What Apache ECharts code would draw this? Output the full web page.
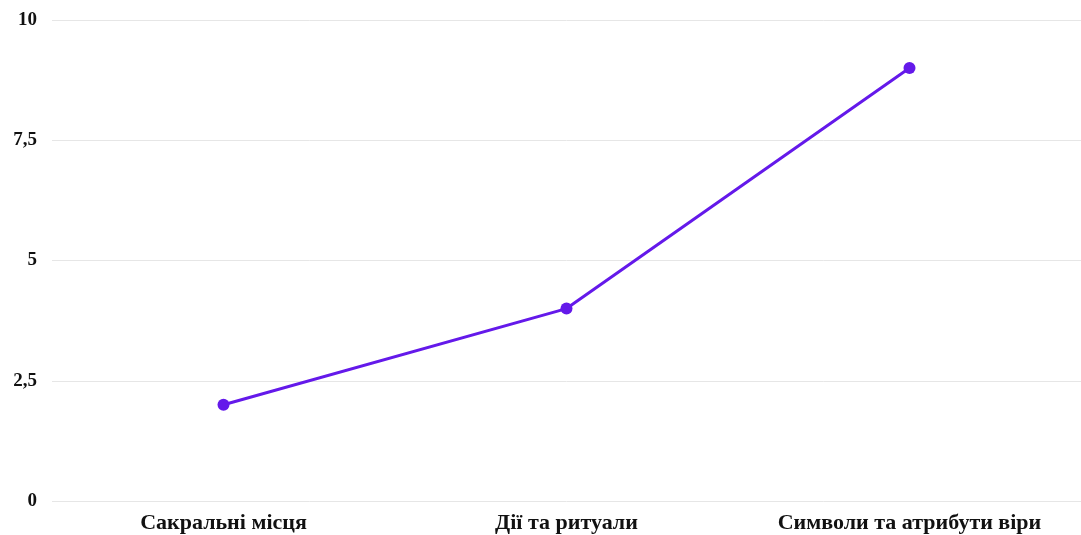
<!DOCTYPE html>
<html>
<head>
<meta charset="utf-8">
<script src="https://cdn.jsdelivr.net/npm/echarts@6/dist/echarts.min.js"></script>
<style>
  html, body { margin: 0; padding: 0; background: #fff; }
  #chart { width: 1081px; height: 535px; }
</style>
</head>
<body>
<div id="chart"></div>
<script>
// категорії та значення
var categories = ['Сакральні місця', 'Дії та ритуали', 'Символи та атрибути віри']
var values = [2, 4, 9]
var yTicks = [0, 2.5, 5, 7.5, 10]

var chart = echarts.init(document.getElementById('chart'))

var option = {
  animation: false,
  grid: {
    top: 20,
    left: 52,
    right: 0,
    bottom: 34,
  },
  xAxis: {
    type: 'category',
    data: categories,
    axisLine: { show: false },
    axisTick: { show: false },
    axisLabel: {
      color: '#111',
      fontFamily: 'Liberation Serif',
      fontWeight: 'bold',
      fontSize: 22,
      margin: 11,
    },
  },
  yAxis: {
    type: 'value',
    min: yTicks[0],
    max: yTicks[yTicks.length - 1],
    interval: 2.5,
    axisLine: { show: false },
    axisTick: { show: false },
    splitLine: {
      lineStyle: { color: '#e6e6e6', width: 1 },
    },
    axisLabel: {
      color: '#111',
      fontFamily: 'Liberation Serif',
      fontWeight: 'bold',
      fontSize: 19,
      margin: 15,
      formatter: function (v) {
        return String(v).replace('.', ',')
      },
    },
  },
  series: [
    {
      type: 'line',
      data: values,
      symbol: 'circle',
      symbolSize: 12,
      lineStyle: { color: '#6419ea', width: 3 },
      itemStyle: { color: '#6419ea' },
    },
  ],
}

chart.setOption(option)
</script>
</body>
</html>
